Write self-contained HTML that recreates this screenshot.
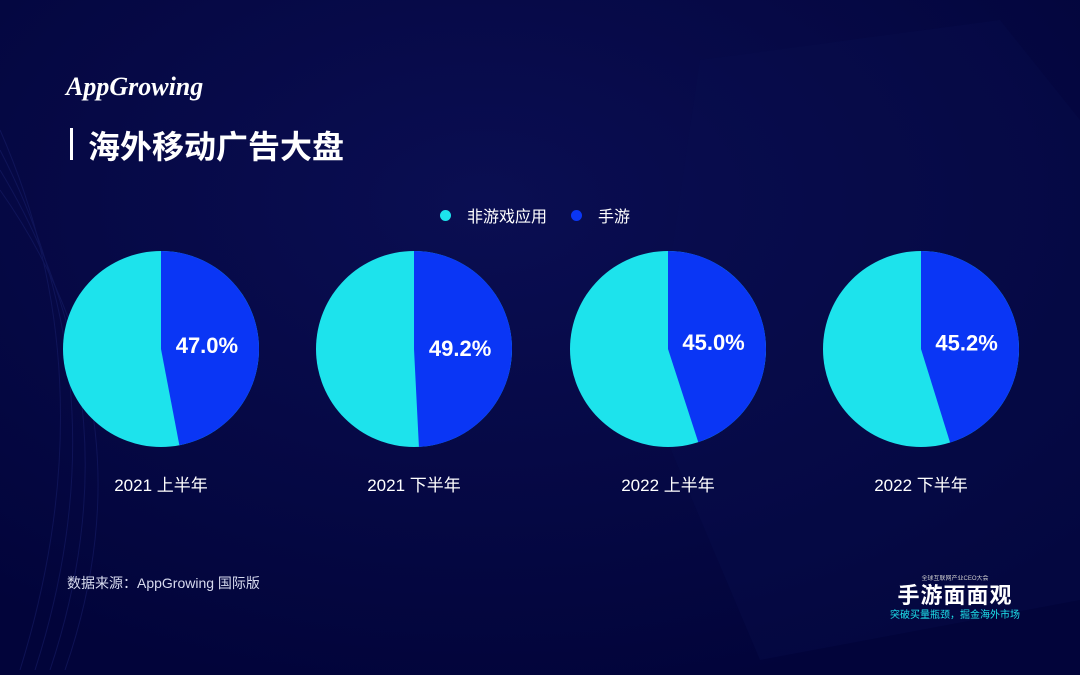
<!DOCTYPE html>
<html><head><meta charset="utf-8"><style>
html,body{margin:0;padding:0;width:1080px;height:675px;overflow:hidden}
body{background:#04073e;font-family:"Liberation Sans","Noto Sans CJK SC",sans-serif;position:relative}
.abs{position:absolute}
svg{display:block}
</style></head><body>
<svg class="abs" width="1080" height="675" style="left:0;top:0">
<defs><radialGradient id="g" cx="0.45" cy="0.3" r="0.75"><stop offset="0" stop-color="#0a0e52"/><stop offset="1" stop-color="#02043a"/></radialGradient></defs>
<rect width="1080" height="675" fill="url(#g)"/>
<g stroke="#161c66" stroke-width="1" fill="none" opacity="0.6">
<path d="M0 130 Q110 380 20 670"/><path d="M0 150 Q125 390 35 670"/><path d="M0 170 Q140 400 50 670"/><path d="M0 190 Q155 410 65 670"/>
</g>
<path d="M700 60 L1000 20 L1080 120 L1080 600 L760 660 L650 400 Z" fill="#0a0f50" opacity="0.3"/>
</svg>
<div class="abs" style="left:66px;top:72px;color:#fff;font-size:26px;font-style:italic;font-weight:bold;font-family:'Liberation Serif',serif">AppGrowing</div>
<div class="abs" style="left:70px;top:128px;width:3px;height:32px;background:#fff"></div>
<div class="abs" style="left:88px;top:122px;color:#fff;font-size:32px;font-weight:bold">海外移动广告大盘</div>
<div class="abs" style="left:440px;top:203px;color:#fff;font-size:16px;display:flex;align-items:center">
<span style="display:flex;align-items:center"><span style="width:11px;height:11px;border-radius:50%;background:#1de3ec;margin-right:16px"></span>非游戏应用</span>
<span style="display:flex;align-items:center;margin-left:24px"><span style="width:11px;height:11px;border-radius:50%;background:#0a36f5;margin-right:16px"></span>手游</span>
</div>
<svg id="chart" class="abs" width="1080" height="675" style="left:0;top:0"></svg>
<div class="abs" style="left:67px;top:573px;color:#d8dbef;font-size:14px">数据来源：AppGrowing 国际版</div>
<div class="abs" style="left:870px;top:575px;width:170px;height:60px;overflow:hidden;text-align:center">
<div style="color:#ccc;font-size:6px;line-height:8px">全球互联网产业CEO大会</div>
<div style="color:#fff;font-size:22px;font-weight:bold;letter-spacing:1px;line-height:26px">手游面面观</div>
<div style="color:#1de3ec;font-size:10px;line-height:14px">突破买量瓶颈，掘金海外市场</div>
</div>
<script>
const categories=["2021 上半年","2021 下半年","2022 上半年","2022 下半年"];
const gameShare=[47.0,49.2,45.0,45.2];
const centersX=[161,414,668,921];
const cy=349,r=98;
const svg=document.getElementById('chart');
const NS="http://www.w3.org/2000/svg";
function pt(a){return [Math.sin(a)*r,-Math.cos(a)*r];}
categories.forEach((c,i)=>{
  const cx=centersX[i];
  const circ=document.createElementNS(NS,'circle');
  circ.setAttribute('cx',cx);circ.setAttribute('cy',cy);circ.setAttribute('r',r);circ.setAttribute('fill','#1de3ec');
  
  
  svg.appendChild(circ);
  const a=gameShare[i]/100*2*Math.PI;const p=pt(a);
  const path=document.createElementNS(NS,'path');
  path.setAttribute('d',`M${cx} ${cy} L${cx} ${cy-r} A${r} ${r} 0 ${a>Math.PI?1:0} 1 ${cx+p[0]} ${cy+p[1]} Z`);
  path.setAttribute('fill','#0a36f5');
  
  
  svg.appendChild(path);
  const t=document.createElementNS(NS,'text');
  const m=pt(a/2);
  t.setAttribute('x',cx+m[0]*0.45+2);t.setAttribute('y',cy+m[1]*0.45+8);
  t.setAttribute('fill','#fff');t.setAttribute('font-size','22');t.setAttribute('font-weight','bold');t.setAttribute('text-anchor','middle');
  t.textContent=gameShare[i].toFixed(1)+'%';
  
  
  svg.appendChild(t);
  const l=document.createElementNS(NS,'text');
  l.setAttribute('x',cx);l.setAttribute('y',491);l.setAttribute('fill','#fff');l.setAttribute('font-size','17');l.setAttribute('text-anchor','middle');
  l.textContent=c;
  
  
  svg.appendChild(l);
});
</script>
</body></html>
